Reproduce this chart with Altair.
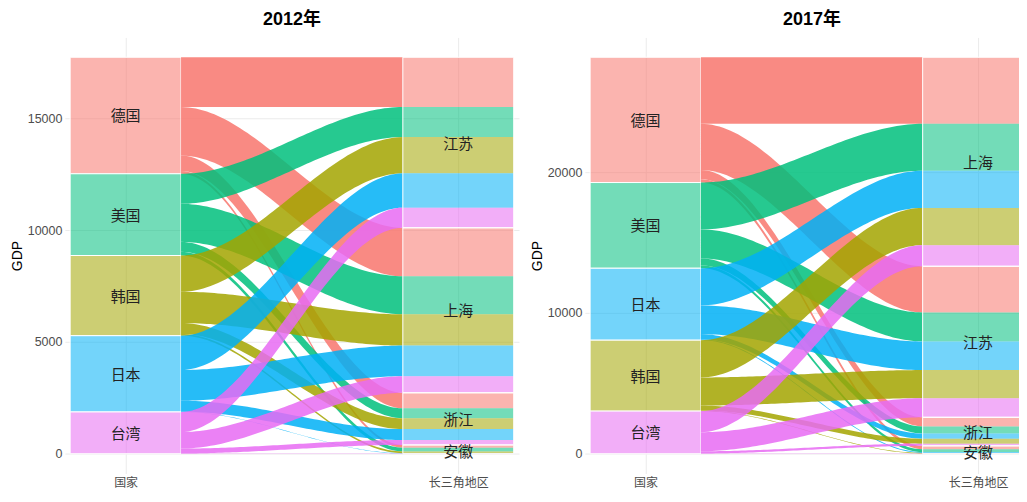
import altair as alt
import numpy as np
import pandas as pd

# ---------------- data ----------------
# 2012: countries (top -> bottom) and regions (top -> bottom)
countries_2012 = ["德国", "美国", "韩国", "日本", "台湾"]
regions_2012 = ["江苏", "上海", "浙江", "安徽"]
jiangsu_2012 = [2228, 1346, 1621, 1537, 899]
shanghai_2012 = [2170, 1700, 1400, 1373, 739]
zhejiang_2012 = [696, 443, 487, 487, 221]
anhui_2012 = [120, 168, 80, 15, 10]

# 2017
countries_2017 = ["德国", "美国", "日本", "韩国", "台湾"]
regions_2017 = ["上海", "江苏", "浙江", "安徽"]
shanghai_2017 = [4730, 3330, 2643, 2649, 1497]
jiangsu_2017 = [3282, 2059, 2038, 1996, 1356]
zhejiang_2017 = [650, 500, 370, 355, 155]
anhui_2017 = [240, 200, 60, 40, 20]

axis_names = ["国家", "长三角地区"]
ticks_2012 = [0, 5000, 10000, 15000]
ticks_2017 = [0, 10000, 20000]

color_domain = ["德国", "韩国", "美国", "日本", "台湾"]
color_range = ["#F8766D", "#A3A500", "#00BF7D", "#00B0F6", "#E76BF3"]

CJK = "Noto Sans CJK SC"
LAT = "Liberation Sans"
W = 1.0 / 3.0  # stratum width in axis units
PLOT_H = 437


def build(countries, regions, rows):
    M = np.array(rows, dtype=float)  # regions x countries
    total = M.sum()
    ctot = M.sum(axis=0)
    rtot = M.sum(axis=1)
    strata, lodes, flows = [], [], []
    top = total
    c_hi = []
    for i, c in enumerate(countries):
        hi, lo = top, top - ctot[i]
        strata.append(dict(side=1, xa=1 - W / 2, xb=1 + W / 2, xm=1, name=c,
                           country=c, lo=lo, hi=hi, mid=(lo + hi) / 2, last=False))
        c_hi.append(hi)
        top = lo
    top = total
    r_hi = []
    for j, r in enumerate(regions):
        hi, lo = top, top - rtot[j]
        strata.append(dict(side=2, xa=2 - W / 2, xb=2 + W / 2, xm=2, name=r,
                           country="", lo=lo, hi=hi, mid=(lo + hi) / 2,
                           last=(j == len(regions) - 1)))
        r_hi.append(hi)
        top = lo
    left = {}
    for i in range(len(countries)):
        cur = c_hi[i]
        for j in range(len(regions)):
            left[(i, j)] = (cur - M[j, i], cur)
            cur -= M[j, i]
    right = {}
    for j in range(len(regions)):
        cur = r_hi[j]
        for i in range(len(countries)):
            right[(i, j)] = (cur - M[j, i], cur)
            lodes.append(dict(xa=2 - W / 2, xb=2 + W / 2, country=countries[i],
                              lo=cur - M[j, i], hi=cur))
            cur -= M[j, i]
    t = np.linspace(0, 1, 61)
    s = t * t * (3 - 2 * t)
    x0, x1 = 1 + W / 2, 2 - W / 2
    k = 0
    for i in range(len(countries)):
        for j in range(len(regions)):
            if M[j, i] <= 0:
                continue
            l0, l1 = left[(i, j)]
            r0, r1 = right[(i, j)]
            for tt, ss in zip(t, s):
                flows.append(dict(fid=k, country=countries[i],
                                  x=x0 + tt * (x1 - x0),
                                  ylo=l0 + (r0 - l0) * ss,
                                  yhi=l1 + (r1 - l1) * ss))
            k += 1
    return pd.DataFrame(strata), pd.DataFrame(lodes), pd.DataFrame(flows), total


cscale = alt.Scale(domain=color_domain, range=color_range)


def panel(title, countries, regions, rows, ticks, xdom, width, dx):
    strata, lodes, flows, total = build(countries, regions, rows)
    pad = total * 0.05
    xsc = alt.Scale(domain=xdom, nice=False, zero=False)
    ysc = alt.Scale(domain=[-pad, total + pad], nice=False, zero=False)
    xax = alt.Axis(values=[1, 2], title=None,
                   labelExpr="datum.value == 1 ? '%s' : '%s'" % (axis_names[0], axis_names[1]),
                   labelFont=CJK, labelFontSize=12, labelColor="#4D4D4D",
                   labelPadding=4, grid=True, gridColor="#EBEBEB",
                   domain=False, ticks=False)
    yax = alt.Axis(values=ticks, format="d", title="GDP", titleFont=LAT,
                   titleFontSize=14, titleFontWeight="normal",
                   titleColor="#000000", titlePadding=3,
                   labelFont=LAT, labelFontSize=12.5, labelColor="#4D4D4D",
                   labelPadding=3, grid=True, gridColor="#EBEBEB",
                   domain=False, ticks=False)
    col = alt.Color("country:N", scale=cscale, legend=None)

    left_df = strata[strata.side == 1]
    right_df = strata[strata.side == 2]

    l_strata = alt.Chart(left_df).mark_rect(
        fillOpacity=0.55, stroke="white", strokeWidth=1, clip=True
    ).encode(
        x=alt.X("xa:Q", scale=xsc, axis=xax), x2="xb:Q",
        y=alt.Y("lo:Q", scale=ysc, axis=yax), y2="hi:Q", color=col)

    r_lodes = alt.Chart(lodes).mark_rect(fillOpacity=0.55, strokeWidth=0, clip=True).encode(
        x=alt.X("xa:Q", scale=xsc, axis=xax), x2="xb:Q",
        y=alt.Y("lo:Q", scale=ysc, axis=yax), y2="hi:Q", color=col)

    r_strata = alt.Chart(right_df).mark_rect(
        fillOpacity=0, stroke="white", strokeWidth=1, clip=True
    ).encode(
        x=alt.X("xa:Q", scale=xsc, axis=xax), x2="xb:Q",
        y=alt.Y("lo:Q", scale=ysc, axis=yax), y2="hi:Q")

    fl = alt.Chart(flows).mark_area(opacity=0.85, clip=True).encode(
        x=alt.X("x:Q", scale=xsc, axis=xax),
        y=alt.Y("ylo:Q", scale=ysc, axis=yax, stack=None), y2="yhi:Q",
        color=col, detail="fid:N")

    labels = alt.Chart(strata[~strata["last"]]).mark_text(
        font=CJK, fontSize=15, color="#222222", baseline="middle", dy=1
    ).encode(
        x=alt.X("xm:Q", scale=xsc, axis=xax),
        y=alt.Y("mid:Q", scale=ysc, axis=yax), text="name:N")

    labels_last = alt.Chart(strata[strata["last"]]).mark_text(
        font=CJK, fontSize=15, color="#222222", baseline="middle", dy=3
    ).encode(
        x=alt.X("xm:Q", scale=xsc, axis=xax),
        y=alt.Y("mid:Q", scale=ysc, axis=yax), text="name:N")

    return alt.layer(l_strata, r_lodes, fl, r_strata, labels, labels_last).properties(
        width=width, height=PLOT_H,
        title=alt.TitleParams(title, font=LAT + ", " + CJK, fontSize=18,
                              fontWeight="bold", anchor="middle", offset=8,
                              dx=dx, color="#000000"))


p1 = panel("2012年", countries_2012, regions_2012,
           [jiangsu_2012, shanghai_2012, zhejiang_2012, anhui_2012],
           ticks_2012, [0.8175, 2.1825], 455, 0)
p2 = panel("2017年", countries_2017, regions_2017,
           [shanghai_2017, jiangsu_2017, zhejiang_2017, anhui_2017],
           ticks_2017, [0.8175, 0.8175 + 435 / 333.2], 435, 10)

chart = alt.hconcat(p1, p2, spacing=11).resolve_scale(
    x="independent", y="independent"
).configure(font=LAT).configure_view(stroke=None).properties(
    padding={"left": 2, "top": 3, "right": 0, "bottom": 0}
)

chart.save("out.html", embed_options={"renderer": "svg", "actions": False})
